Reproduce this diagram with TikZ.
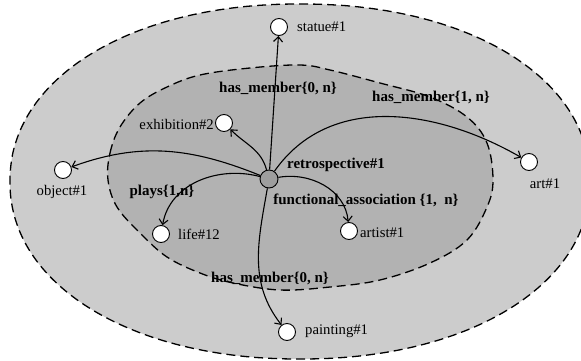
\documentclass[tikz,border=0pt]{standalone}
\usepackage{fontspec}
\setmainfont{Liberation Serif}
\usetikzlibrary{arrows.meta}
\definecolor{outerfill}{gray}{0.80}
\definecolor{innerfill}{gray}{0.70}
\definecolor{centerfill}{gray}{0.62}
\tikzset{
  region/.style={draw=black, line width=1.3pt, dash pattern=on 9pt off 5pt},
  leaf/.style={circle, draw=black, fill=white, line width=0.9pt, minimum size=17pt, inner sep=0pt},
  hub/.style={circle, draw=black, fill=centerfill, line width=0.9pt, minimum size=18pt, inner sep=0pt},
  txt/.style={inner sep=0pt, font=\fontsize{14.7}{17}\selectfont},
  btxt/.style={inner sep=0pt, font=\fontsize{15}{17}\selectfont\bfseries},
  edge/.style={draw=black, line width=1.1pt, -{Straight Barb[length=5pt,width=9pt,line width=1.1pt]}}
}
\begin{document}
\begin{tikzpicture}[x=1pt,y=1pt]
\useasboundingbox (0,0) rectangle (581,360);
\clip (0,0) rectangle (581,360);
% outer region (slightly squarish ellipse)
\draw[region, fill=outerfill] plot[domain=1:361, samples=121, variable=\t, smooth]
  ({300+290*sign(cos(\t))*pow(abs(cos(\t)),0.95)},
   {178.5+177.5*sign(sin(\t))*pow(abs(sin(\t)),0.95)}) -- cycle;
% inner region
\draw[region, fill=innerfill] plot[smooth cycle, tension=0.6] coordinates {
 (108,180) (110,207) (120,233) (140,257) (167,273) (200,285) (250,292)
 (300,295) (330,290) (380,277) (430,263) (467,243) (487,217) (493,180)
 (487,153) (467,120) (430,97) (380,80) (330,73) (280,70) (233,77) (200,87)
 (167,103) (140,127) (117,153)};
% nodes
\node[hub] (r) at (269,181) {};
\node[leaf] (st) at (279,333) {};
\node[leaf] (ex) at (224,237) {};
\node[leaf] (ob) at (63,190) {};
\node[leaf] (ar) at (529,198) {};
\node[leaf] (li) at (161,126) {};
\node[leaf] (at) at (349,129) {};
\node[leaf] (pa) at (287,28) {};
% node labels
\node[txt, anchor=west] (tst) at (297,333) {statue\#1};
\node[txt, anchor=east] (tex) at (214,236) {exhibition\#2};
\node[txt] (tob) at (62,168) {object\#1};
\node[txt] (tar) at (545,176) {art\#1};
\node[txt, anchor=west] (tli) at (178,126) {life\#12};
\node[txt, anchor=west] (tat) at (360,127) {artist\#1};
\node[txt, anchor=west] (tpa) at (305,29) {painting\#1};
\node[btxt] (tr) at (336,195) {retrospective\#1};
% edges
\draw[edge] (r) -- (st);
\draw[edge] (r) to[out=105,in=-45] (ex);
\draw[edge] (r) to[out=158,in=20] (ob);
\draw[edge] (r) to[out=55,in=150] (ar);
\draw[edge] (r) to[out=165,in=80] (li);
\draw[edge] (r) to[out=10,in=95] (at);
\draw[edge] (r) to[out=-100,in=128] (pa);
% edge labels
\node[btxt] (l1) at (278,272) {has\_member\{0, n\}};
\node[btxt] (l2) at (431,263) {has\_member\{1, n\}};
\node[btxt] (l3) at (162,168) {plays\{1,n\}};
\node[btxt] (l4) at (366,160) {functional\_association \{1,\ \ n\}};
\node[btxt] (l5) at (270,82) {has\_member\{0, n\}};
\end{tikzpicture}
\end{document}
